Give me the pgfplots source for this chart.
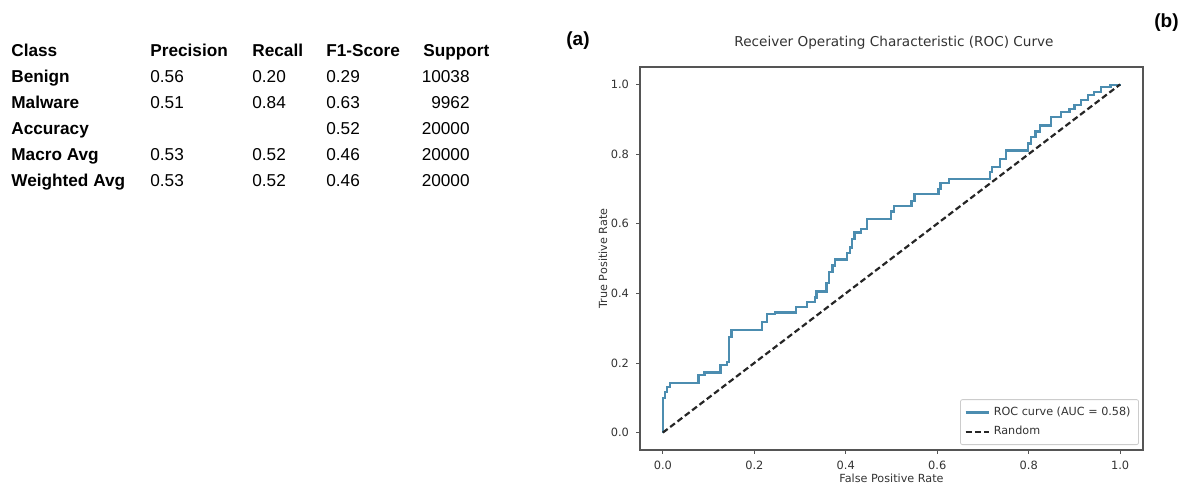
\documentclass[border=0pt]{standalone}
\usepackage{pgfplots}
\pgfplotsset{compat=1.18}
\usepackage{fontspec}
\setmainfont{Liberation Sans}
\newfontfamily\dejavu{DejaVu Sans}
\definecolor{roc}{HTML}{4C8DB0}
\definecolor{frame}{HTML}{555555}

\begin{document}
\begin{tikzpicture}
\useasboundingbox (0,0) rectangle (589pt,-242.5pt);
% ---------- table (a) ----------
\begin{scope}[x=0.5pt,y=-0.5pt,
  every node/.style={inner sep=0pt, font=\fontsize{8.6}{10}\selectfont},
  hd/.style={anchor=base west, font=\fontsize{8.6}{10}\selectfont\bfseries},
  tx/.style={anchor=base west},
  nr/.style={anchor=base east}]
\node[hd] at (11,56.7) {Class};
\node[hd] at (150,56.7) {Precision};
\node[hd] at (252,56.7) {Recall};
\node[hd] at (326,56.7) {F1-Score};
\node[hd] at (423,56.7) {Support};
% rows
\node[hd] at (11,83) {Benign};
\node[tx] at (150,83) {0.56};
\node[tx] at (252,83) {0.20};
\node[tx] at (326,83) {0.29};
\node[nr] at (470,83) {10038};
\node[hd] at (11,109) {Malware};
\node[tx] at (150,109) {0.51};
\node[tx] at (252,109) {0.84};
\node[tx] at (326,109) {0.63};
\node[nr] at (470,109) {9962};
\node[hd] at (11,135) {Accuracy};
\node[tx] at (326,135) {0.52};
\node[nr] at (470,135) {20000};
\node[hd] at (11,161) {Macro Avg};
\node[tx] at (150,161) {0.53};
\node[tx] at (252,161) {0.52};
\node[tx] at (326,161) {0.46};
\node[nr] at (470,161) {20000};
\node[hd] at (11,187) {Weighted Avg};
\node[tx] at (150,187) {0.53};
\node[tx] at (252,187) {0.52};
\node[tx] at (326,187) {0.46};
\node[nr] at (470,187) {20000};
\node[anchor=base west, font=\fontsize{9.5}{11}\selectfont\bfseries] at (566,46) {(a)};
\node[anchor=base west, font=\fontsize{9.5}{11}\selectfont\bfseries] at (1154,28) {(b)};
\end{scope}
% ---------- ROC axis ----------
\begin{axis}[
  at={(320pt,-225pt)}, anchor=south west,
  scale only axis, width=251.5pt, height=191.5pt,
  xmin=-0.05, xmax=1.05, ymin=-0.05, ymax=1.05,
  xtick={0,0.2,0.4,0.6,0.8,1.0}, ytick={0,0.2,0.4,0.6,0.8,1.0},
  tick align=outside, tick pos=left,
  major tick length=2pt,
  every tick/.style={frame, line width=0.45pt},
  axis line style={frame, line width=0.55pt},
  /pgf/number format/assume math mode=true,
  xticklabel style={/pgf/number format/.cd, fixed, fixed zerofill, precision=1},
  yticklabel style={/pgf/number format/.cd, fixed, fixed zerofill, precision=1},
  ticklabel style={font=\dejavu\fontsize{5.7}{6.5}\selectfont, text=black!80},
  xlabel={False Positive Rate}, ylabel={True Positive Rate},
  xlabel style={font=\dejavu\fontsize{5.6}{6.5}\selectfont, text=black!80, at={(axis description cs:0.5,-0.073)}, anchor=center},
  ylabel style={font=\dejavu\fontsize{5.6}{6.5}\selectfont, text=black!80, at={(axis description cs:-0.0736,0.5)}, anchor=center},
  title={Receiver Operating Characteristic (ROC) Curve},
  title style={font=\dejavu\fontsize{6.8}{8}\selectfont, text=black!80, at={(axis description cs:0.505,1)}, anchor=base, yshift=4pt},
  legend style={at={(axis description cs:0.992,0.013)}, anchor=south east,
     draw=black!20, rounded corners=1pt, fill=white,
     font=\dejavu\fontsize{5.6}{6.5}\selectfont, text=black!80,
     inner xsep=2pt, inner ysep=1.5pt},
  legend cell align=left,
  legend image code/.code={\draw[#1] (0pt,0pt) -- (11.5pt,0pt);},
]
\addplot[roc, line width=1.15pt, const plot mark left] coordinates {
(0,0) (0,0.100) (0.004,0.117) (0.009,0.130) (0.015,0.142) (0.078,0.165)
(0.091,0.173) (0.126,0.194) (0.140,0.203) (0.145,0.275) (0.150,0.295)
(0.217,0.318) (0.228,0.341) (0.245,0.345) (0.291,0.361) (0.315,0.376)
(0.332,0.388) (0.336,0.405) (0.358,0.430) (0.364,0.462) (0.371,0.480)
(0.376,0.497) (0.403,0.515) (0.409,0.532) (0.414,0.555) (0.419,0.575)
(0.434,0.584) (0.447,0.613) (0.499,0.635) (0.506,0.650) (0.544,0.665)
(0.550,0.685) (0.603,0.700) (0.607,0.717) (0.625,0.728) (0.716,0.748)
(0.719,0.762) (0.737,0.786) (0.751,0.810) (0.798,0.830) (0.805,0.849)
(0.815,0.865) (0.824,0.882) (0.849,0.907) (0.871,0.921) (0.889,0.930)
(0.900,0.940) (0.914,0.955) (0.929,0.969) (0.943,0.979) (0.958,0.993)
(0.979,0.998) (1.000,1.000)
};
\addlegendentry{ROC curve (AUC = 0.58)}
\addplot[black!85, line width=1.1pt, dash pattern=on 3pt off 1.6pt] coordinates {(0,0) (1,1)};
\addlegendentry{Random}
\end{axis}
\end{tikzpicture}
\end{document}
